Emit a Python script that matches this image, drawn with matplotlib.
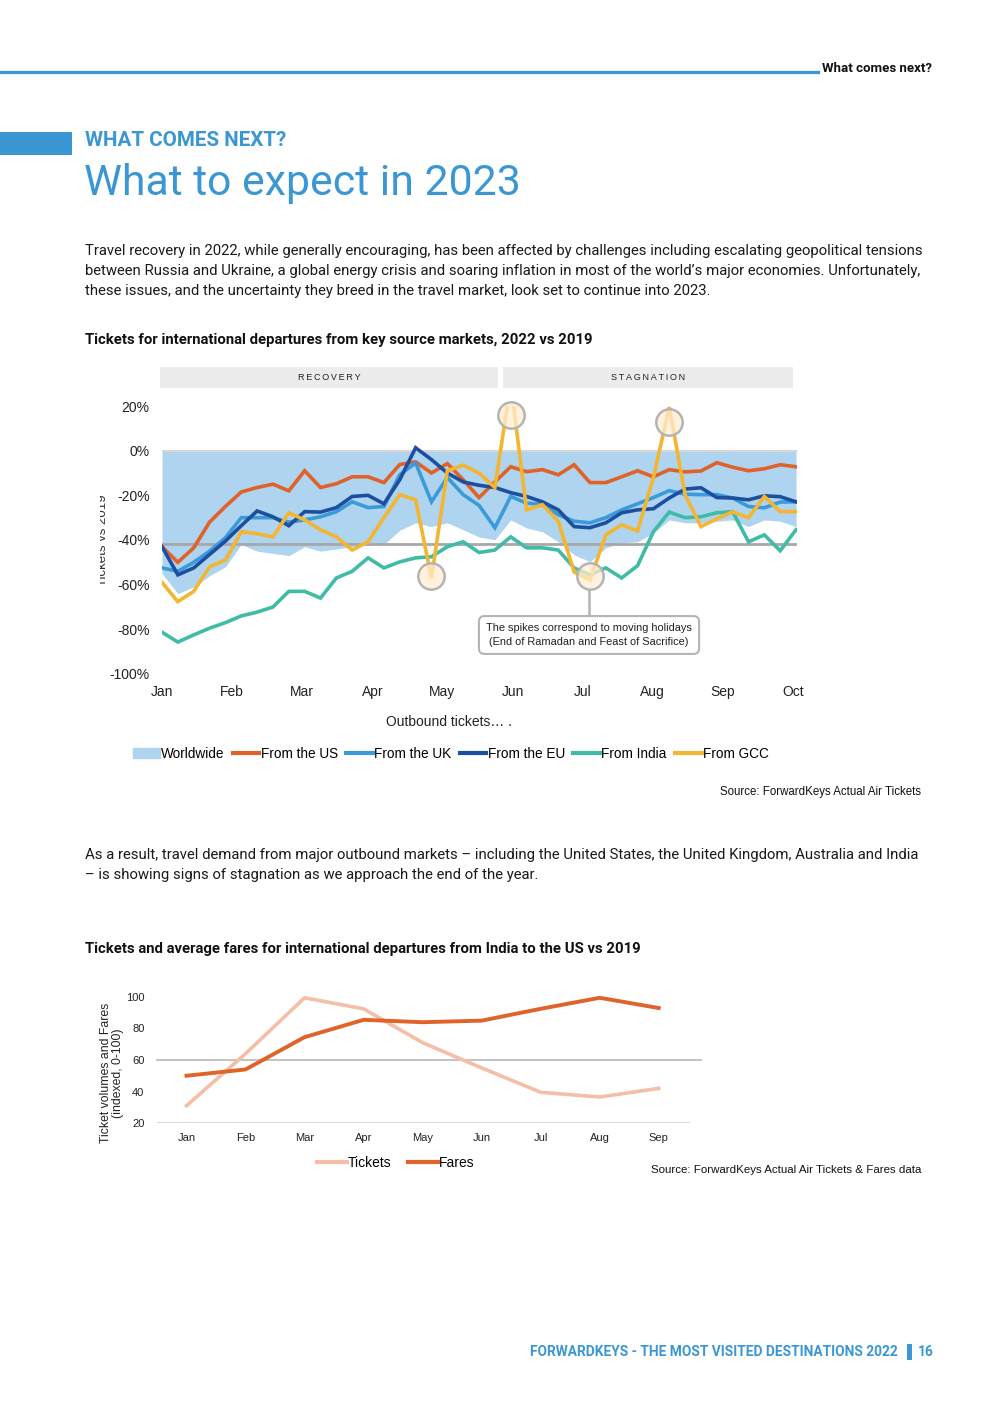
import numpy as np
import matplotlib
matplotlib.use("Agg")
import matplotlib.pyplot as plt
from matplotlib.patches import Rectangle, Patch
from matplotlib.lines import Line2D
from matplotlib.transforms import Bbox, TransformedBbox

W, H = 992, 1403
BLUE = '#3a97d3'

# ---- chart 1 data: weekly tickets 2022 vs 2019 (%) ----
months = ['Jan', 'Feb', 'Mar', 'Apr', 'May', 'Jun', 'Jul', 'Aug', 'Sep', 'Oct']
worldwide = [-55, -64, -61, -56, -52, -42, -45, -46, -47, -43, -45,
             -44, -43, -42, -42, -35.6, -32.3, -34, -32.3, -35.4, -38.6,
             -39.9, -31, -34.6, -36.3, -40.8, -46.6, -49.7, -43.5, -41.3, -40.8,
             -36.8, -31, -32.3, -32.3, -31.6, -31, -34, -31, -31.6, -34]
from_us = [-43, -50, -43.5, -32, -25, -18.5, -16.5, -15, -18, -9, -16.5,
           -14.8, -11.7, -11.7, -14.3, -6.2, -5, -10, -5.8, -13, -21,
           -14, -7.2, -9.4, -8.5, -10.8, -6.3, -14.3, -14.3, -11.7, -9,
           -11.7, -8.5, -9.5, -9.1, -5.4, -7.4, -9, -8.1, -6.3, -7.2]
from_uk = [-52.5, -54, -50, -45, -39, -30, -30, -30, -32, -31, -29.6,
           -27.3, -22.9, -25.5, -25, -10.8, -5.5, -22.9, -12, -19.7, -24.5,
           -34.5, -20.5, -23.5, -24, -28.7, -31.6, -32.3, -30, -26.5, -23.8,
           -21, -17.9, -19.5, -19.7, -19.7, -21.2, -25, -25.6, -23, -22.9]
from_eu = [-43, -55.6, -52.5, -46.5, -40.5, -33.6, -27, -29.6, -33.6, -27.3, -27.5,
           -25.5, -20.5, -20, -23.8, -13, 1.3, -4, -10, -14, -15.5,
           -16.5, -18.8, -20.5, -22.9, -26.5, -34, -34.5, -32.3, -27.8, -26.5,
           -26, -21.2, -17.2, -16.6, -21, -21.2, -22, -20.2, -20.6, -22.9]
from_india = [-81.3, -85.7, -82.5, -79.5, -77, -74, -72.3, -70, -63, -63, -66,
              -57, -54, -48, -52.5, -49.8, -48, -47.5, -43, -40.8, -45.6,
              -44.5, -38.6, -43.5, -43.5, -44.5, -52.5, -55.6, -52.5, -57, -51.5,
              -36.3, -27.5, -30, -29.6, -27.8, -27.3, -40.8, -37.7, -44.8, -35.4]
from_gcc = [-59, -67.6, -63, -52, -49, -36.3, -37.2, -38.6, -27.8, -31, -35.4,
            -38.6, -44.5, -40.8, -30, -19.7, -22, -57, -9, -6.5, -10,
            -16.5, 30, -26.5, -24.2, -31.6, -54.3, -57.8, -37.7, -33.2, -36,
            -12, 19.5, -19.7, -34, -30.5, -27.4, -30, -20.5, -27.3, -27.3]
ref_level = -42
spike_weeks = [17, 22, 27, 32]
spike_vals = [-56, 16, -56, 13]

series = [('From the US', from_us, '#e0622a'),
          ('From the UK', from_uk, '#3b9ad9'),
          ('From the EU', from_eu, '#1c4f9f'),
          ('From India', from_india, '#40bca6'),
          ('From GCC', from_gcc, '#f4b531')]

# ---- chart 2 data: India -> US, indexed 0-100 ----
months2 = ['Jan', 'Feb', 'Mar', 'Apr', 'May', 'Jun', 'Jul', 'Aug', 'Sep']
tickets = [31, 64, 99.5, 92.5, 71, 55, 39.5, 36.5, 42]
fares = [50, 54, 74.5, 85.5, 84, 85, 92.5, 99.5, 93]


def fx(x):
    return x / W


def fy(y):
    return 1 - y / H


def axrect(x0, y0, x1, y1):
    return [fx(x0), fy(y1), fx(x1) - fx(x0), fy(y0) - fy(y1)]


plt.rcParams['font.family'] = ['Roboto', 'DejaVu Sans']
fig = plt.figure(figsize=(W / 100, H / 100), dpi=100)

# ---- page header ----
fig.add_artist(Line2D([0, fx(818)], [fy(72), fy(72)], color=BLUE, lw=2.3))
fig.text(fx(822), fy(68), 'What comes next?', fontsize=9.5, fontweight='bold',
         va='center', ha='left', color='#111111')
fig.add_artist(Rectangle((0, fy(155)), fx(72), fy(132) - fy(155), color=BLUE, lw=0))
fig.text(fx(85), fy(141), 'WHAT COMES NEXT?', fontsize=14.9, fontweight='bold',
         color=BLUE, va='center', ha='left')
fig.text(fx(84), fy(184), 'What to expect in 2023', fontsize=30.8, fontweight='normal',
         color=BLUE, va='center', ha='left')

para1 = ["Travel recovery in 2022, while generally encouraging, has been affected by challenges including escalating geopolitical tensions",
         "between Russia and Ukraine, a global energy crisis and soaring inflation in most of the world\u2019s major economies. Unfortunately,",
         "these issues, and the uncertainty they breed in the travel market, look set to continue into 2023."]
for i, line in enumerate(para1):
    fig.text(fx(85), fy(251 + 20 * i), line, fontsize=10.7, color='#1a1a1a', va='center')

fig.text(fx(85), fy(340), 'Tickets for international departures from key source markets, 2022 vs 2019',
         fontsize=10.7, fontweight='bold', color='#111111', va='center')

# ---- chart 1 ----
CH = ['Liberation Sans', 'DejaVu Sans']
ax = fig.add_axes(axrect(162, 406, 797, 674))
wk = np.arange(len(worldwide))
ax.fill_between(wk, 0, worldwide, color='#aed4ef', lw=0, zorder=1)
ax.axhline(0, color='#d6d6d6', lw=1.5, zorder=1.5)
ax.axhline(ref_level, color='#a8a8a8', lw=2, zorder=2)
for name, vals, col in series:
    ax.plot(wk, vals, color=col, lw=2.6, zorder=3, solid_joinstyle='miter')
ax.plot(spike_weeks, spike_vals, 'o', ms=19, mfc=(1.0, 0.93, 0.82, 0.75),
        mec='#b4b4b4', mew=1.8, zorder=5, clip_on=False)
ax.set_xlim(0, 40.06)
ax.set_ylim(-100, 20)
ax.set_xticks(np.arange(len(months)) * 4.4227)
ax.set_xticklabels(months, family=CH, fontsize=10, color='#222222')
ax.set_yticks(np.arange(-100, 21, 20))
ax.set_yticklabels([f'{v}%' for v in range(-100, 21, 20)], family=CH, fontsize=10, color='#222222')
ax.tick_params(length=0, pad=8)
ax.tick_params(axis='y', pad=9)
for s in ax.spines.values():
    s.set_visible(False)

# phase header boxes
for x0, x1, lab in [(160, 498, 'RECOVERY'), (503, 793, 'STAGNATION')]:
    fig.add_artist(Rectangle((fx(x0), fy(388)), fx(x1) - fx(x0), fy(367) - fy(388),
                             color='#ececec', lw=0))
    fig.text(fx((x0 + x1) / 2), fy(378), '\u2009'.join(lab), family=CH, fontsize=6.5,
             ha='center', va='center', color='#222222')

# annotation
fig.add_artist(Line2D([fx(589), fx(589)], [fy(590), fy(615)], color='#b4b4b4', lw=1.8))
fig.text(fx(589), fy(635),
         'The spikes correspond to moving holidays\n(End of Ramadan and Feast of Sacrifice)',
         family=CH, fontsize=7.9, ha='center', va='center', color='#222222', linespacing=1.45,
         bbox=dict(boxstyle='round,pad=0.65,rounding_size=0.5', fc='white', ec='#b4b4b4', lw=1.5))

# clipped y label
yl = fig.text(fx(102.5), fy(540), 'Tickets vs 2019', family=CH, fontsize=9.5, rotation=90,
              ha='center', va='center', color='#333333')
yl.set_clip_box(TransformedBbox(Bbox([[fx(99.5), 0], [fx(112), 1]]), fig.transFigure))
yl.set_clip_on(True)

fig.text(fx(449), fy(722), 'Outbound tickets\u2026 .', family=CH, fontsize=10,
         ha='center', va='center', color='#222222')

handles = [Patch(color='#aed4ef')] + [Line2D([], [], color=c, lw=3) for _, _, c in series]
labels = ['Worldwide'] + [n for n, _, _ in series]
fig.legend(handles, labels, loc='center', bbox_to_anchor=(fx(451), fy(754)), ncol=6,
           frameon=False, prop={'family': CH, 'size': 9.8}, handlelength=1.95,
           handletextpad=0.1, columnspacing=0.62, handleheight=0.7)

fig.text(fx(921), fy(792), 'Source: ForwardKeys Actual Air Tickets', family=CH,
         fontsize=8.3, ha='right', va='center', color='#111111')

para2 = ["As a result, travel demand from major outbound markets \u2013 including the United States, the United Kingdom, Australia and India",
         "\u2013 is showing signs of stagnation as we approach the end of the year."]
for i, line in enumerate(para2):
    fig.text(fx(85), fy(855 + 20 * i), line, fontsize=10.7, color='#1a1a1a', va='center')

fig.text(fx(85), fy(949), 'Tickets and average fares for international departures from India to the US vs 2019',
         fontsize=10.7, fontweight='bold', color='#111111', va='center')

# ---- chart 2 ----
ax2 = fig.add_axes(axrect(157, 997, 690, 1123))
m2 = np.arange(len(months2))
ax2.axhline(60, color='#c4c4c4', lw=1.5, xmax=1.02, clip_on=False, zorder=1)
ax2.axhline(20, color='#d9d9d9', lw=1.5, zorder=1)
ax2.plot(m2, tickets, color='#f4bfa6', lw=2.6, clip_on=False, zorder=2)
ax2.plot(m2, fares, color='#e0632a', lw=2.8, clip_on=False, zorder=3)
ax2.set_xlim(-0.5, 8.53)
ax2.set_ylim(20, 100)
ax2.set_xticks(m2)
ax2.set_xticklabels(months2, family=CH, fontsize=8, color='#222222')
ax2.set_yticks(np.arange(20, 101, 20))
ax2.set_yticklabels([str(v) for v in range(20, 101, 20)], family=CH, fontsize=8, color='#222222')
ax2.tick_params(length=0, pad=7)
ax2.tick_params(axis='y', pad=9)
for s in ax2.spines.values():
    s.set_visible(False)

fig.text(fx(112), fy(1073), 'Ticket volumes and Fares\n(indexed, 0-100)', family=CH,
         fontsize=8.8, rotation=90, ha='center', va='center', color='#222222',
         linespacing=1.0, multialignment='center')

h2 = [Line2D([], [], color='#f4bfa6', lw=3), Line2D([], [], color='#e0632a', lw=3)]
fig.legend(h2, ['Tickets', 'Fares'], loc='center', bbox_to_anchor=(fx(396), fy(1163)),
           ncol=2, frameon=False, prop={'family': CH, 'size': 10}, handlelength=2.1,
           handletextpad=0.1, columnspacing=1.2)

fig.text(fx(921), fy(1170), 'Source: ForwardKeys Actual Air Tickets & Fares data', family=CH,
         fontsize=8.25, ha='right', va='center', color='#111111')

# ---- footer ----
fig.text(fx(898), fy(1352), 'FORWARDKEYS - THE MOST VISITED DESTINATIONS 2022', fontsize=9.9,
         fontweight='bold', color=BLUE, ha='right', va='center')
fig.add_artist(Rectangle((fx(907), fy(1360)), fx(5), fy(1344) - fy(1360), color=BLUE, lw=0))
fig.text(fx(918), fy(1352), '16', fontsize=9.9, fontweight='bold', color=BLUE, ha='left', va='center')

fig.savefig('out.png', dpi=100, facecolor='white')
